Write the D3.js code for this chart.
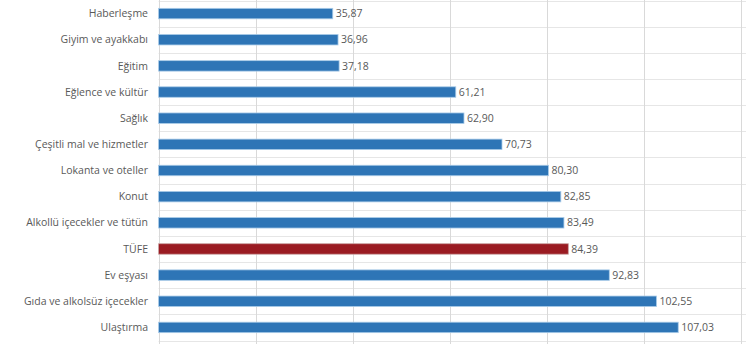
<!DOCTYPE html>
<html><head><meta charset="utf-8">
<script src="https://cdn.jsdelivr.net/npm/d3@7"></script>
<style>
html,body{margin:0;padding:0;background:#fff;}
svg{display:block;font-family:"Open Sans","Segoe UI",sans-serif;}
</style></head>
<body>
<svg id="chart" width="746" height="344"></svg>
<script>
const categories = ["Haberleşme","Giyim ve ayakkabı","Eğitim","Eğlence ve kültür","Sağlık","Çeşitli mal ve hizmetler","Lokanta ve oteller","Konut","Alkollü içecekler ve tütün","TÜFE","Ev eşyası","Gıda ve alkolsüz içecekler","Ulaştırma"];
const values = [35.87,36.96,37.18,61.21,62.90,70.73,80.30,82.85,83.49,84.39,92.83,102.55,107.03];
const highlight = ["TÜFE"];
const xTicks = [0,20,40,60,80,100,120];

const svg = d3.select("#chart");
const x = d3.scaleLinear().domain([0,120]).range([158.6,741.2]);
const y = d3.scaleBand().domain(categories).range([0.5,340.5]).paddingInner(0.6).paddingOuter(0.3);
const step = y.step();

// horizontal gridlines (band boundaries)
const hb = d3.range(categories.length+1).map(i => 0.5 + i*step);
svg.append("g").selectAll("line").data(hb).join("line")
  .attr("x1",x(0)).attr("x2",746)
  .attr("y1",d=>Math.round(d)+0.5).attr("y2",d=>Math.round(d)+0.5)
  .attr("stroke","#e6e6e6").attr("stroke-width",1);

// vertical gridlines
svg.append("g").selectAll("line").data(xTicks).join("line")
  .attr("x1",d=>Math.round(x(d))+0.5).attr("x2",d=>Math.round(x(d))+0.5)
  .attr("y1",0).attr("y2",344)
  .attr("stroke","#d9d9d9").attr("stroke-width",1);

// bars
svg.append("g").selectAll("rect").data(categories).join("rect")
  .attr("x",x(0))
  .attr("y",(d)=>y(d))
  .attr("width",(d,i)=>x(values[i])-x(0))
  .attr("height",y.bandwidth())
  .attr("fill",d=>highlight.includes(d)?"#9a1b22":"#2e75b6")
  .attr("stroke",d=>highlight.includes(d)?"#c9a0a0":"#a9cbe8")
  .attr("stroke-width",0.8);

// category labels
svg.append("g").selectAll("text").data(categories).join("text")
  .attr("x",148)
  .attr("y",d=>y(d)+y.bandwidth()/2)
  .attr("dy","0.35em")
  .attr("text-anchor","end")
  .attr("font-size",10.5)
  .attr("fill","#595959")
  .text(d=>d);

// value labels
const fmt = v => v.toFixed(2).replace(".",",");
svg.append("g").selectAll("text").data(categories).join("text")
  .attr("x",(d,i)=>x(values[i])+3)
  .attr("y",d=>y(d)+y.bandwidth()/2)
  .attr("dy","0.35em")
  .attr("font-size",10.5)
  .attr("fill","#595959")
  .text((d,i)=>fmt(values[i]));
</script>
</body></html>
